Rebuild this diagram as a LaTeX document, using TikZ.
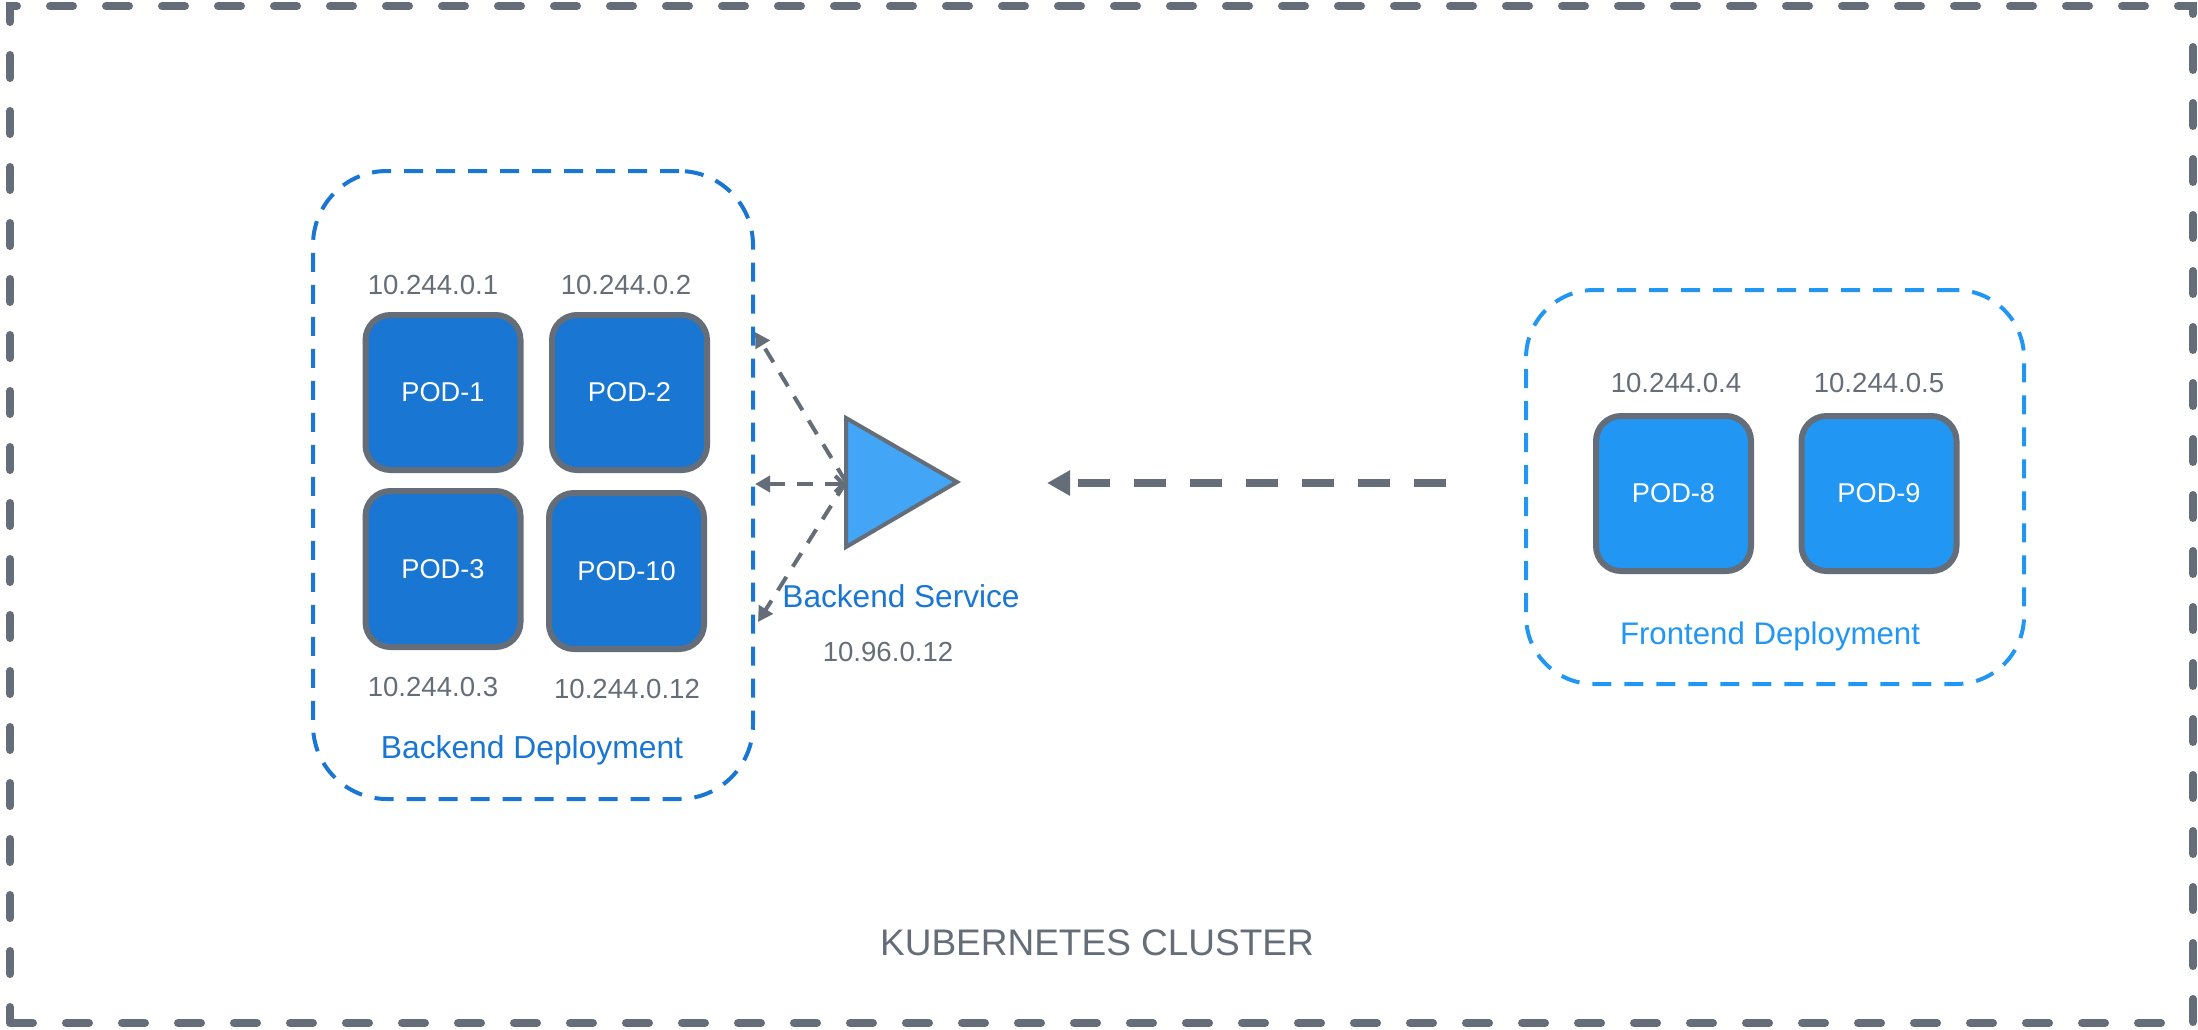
\documentclass[tikz,border=0pt]{standalone}
\usepackage{fontspec}
\setmainfont{Liberation Sans}
\usetikzlibrary{arrows.meta}
\definecolor{kgray}{RGB}{101,109,120}
\definecolor{bblue}{RGB}{25,118,210}
\definecolor{fblue}{RGB}{33,150,243}
\definecolor{sblue}{RGB}{66,165,245}
\begin{document}
\begin{tikzpicture}[x=0.5pt,y=-0.5pt,
  pod/.style={draw=kgray, line width=3pt, rounded corners=12.5pt, text=white, inner sep=0pt, minimum height=77.5pt, minimum width=77.5pt, font=\fontsize{13.6}{16}\selectfont},
  bpod/.style={pod, fill=bblue},
  fpod/.style={pod, fill=fblue},
  ip/.style={text=kgray, inner sep=0pt, anchor=base, font=\fontsize{13.8}{16}\selectfont},
  deploy/.style={line width=2pt, dash pattern=on 9.5pt off 6.5pt, inner sep=0pt},
  dlabel/.style={inner sep=0pt, anchor=base},
  cluster/.style={draw=kgray, line width=4pt, dash pattern=on 11.5pt off 16.5pt, line cap=round, inner sep=0pt},
  svcarrow/.style={draw=kgray, line width=2pt, dash pattern=on 8pt off 6pt},
  bigarrow/.style={draw=kgray, line width=4pt, dash pattern=on 16pt off 12pt, -{Triangle[length=11.5pt,width=12pt]}}
]
\useasboundingbox (0,0) rectangle (2198,1029);

% cluster frame
\node[cluster, minimum width=1091.5pt, minimum height=508.5pt] (cluster) at (1101.5,514.5) {};
\node[dlabel, text=kgray, font=\fontsize{18.5}{22}\selectfont] (clusterlbl) at (1097,955) {KUBERNETES CLUSTER};

% deployments
\node[deploy, draw=bblue, rounded corners=37pt, minimum width=220pt, minimum height=314pt] (bdep) at (533,485) {};
\node[deploy, draw=fblue, rounded corners=34pt, minimum width=249pt, minimum height=197pt] (fdep) at (1775,487) {};
\node[dlabel, text=bblue, font=\fontsize{15.9}{18}\selectfont] (bdeplbl) at (532,758) {Backend Deployment};
\node[dlabel, text=fblue, font=\fontsize{15.6}{18}\selectfont] (fdeplbl) at (1770,644) {Frontend Deployment};

% backend pods
\node[bpod] (pod1) at (443,392.5) {POD-1};
\node[bpod] (pod2) at (629.5,392.5) {POD-2};
\node[bpod, minimum height=78pt] (pod3) at (443,569) {POD-3};
\node[bpod, minimum height=78pt] (pod10) at (626.5,571) {POD-10};
\node[ip] (ip1) at (433,294) {10.244.0.1};
\node[ip] (ip2) at (626,294) {10.244.0.2};
\node[ip] (ip3) at (433,696) {10.244.0.3};
\node[ip] (ip12) at (627,698) {10.244.0.12};

% frontend pods
\node[fpod] (pod8) at (1673.5,493.5) {POD-8};
\node[fpod] (pod9) at (1879,493.5) {POD-9};
\node[ip] (ip4) at (1676,392) {10.244.0.4};
\node[ip] (ip5) at (1879,392) {10.244.0.5};

% service
\draw[fill=sblue, draw=kgray, line width=2pt, line join=miter] (846,418) -- (846,547) -- (957,482) -- cycle;
\coordinate (svc) at (846,482);
\node[dlabel, text=bblue, font=\fontsize{15.8}{18}\selectfont] (svclbl) at (901,607) {Backend Service};
\node[ip] (svcip) at (888,661) {10.96.0.12};

% service arrows
\coordinate (t1) at (755,332);
\coordinate (t2) at (755,484);
\coordinate (t3) at (758,622);
\coordinate (svcm) at (846,484);
\draw[svcarrow, -{Triangle[length=7.5pt,width=8pt]}] (svc) -- (t1);
\draw[svcarrow, {Straight Barb[length=4pt,width=8pt]}-{Triangle[length=7.5pt,width=8pt]}] (svcm) -- (t2);
\draw[svcarrow, -{Triangle[length=7.5pt,width=8pt]}] (svc) -- (t3);

% frontend to service
\coordinate (fstart) at (1446,483);
\coordinate (ftip) at (1047,483);
\draw[bigarrow] (fstart) -- (ftip);
\end{tikzpicture}
\end{document}
